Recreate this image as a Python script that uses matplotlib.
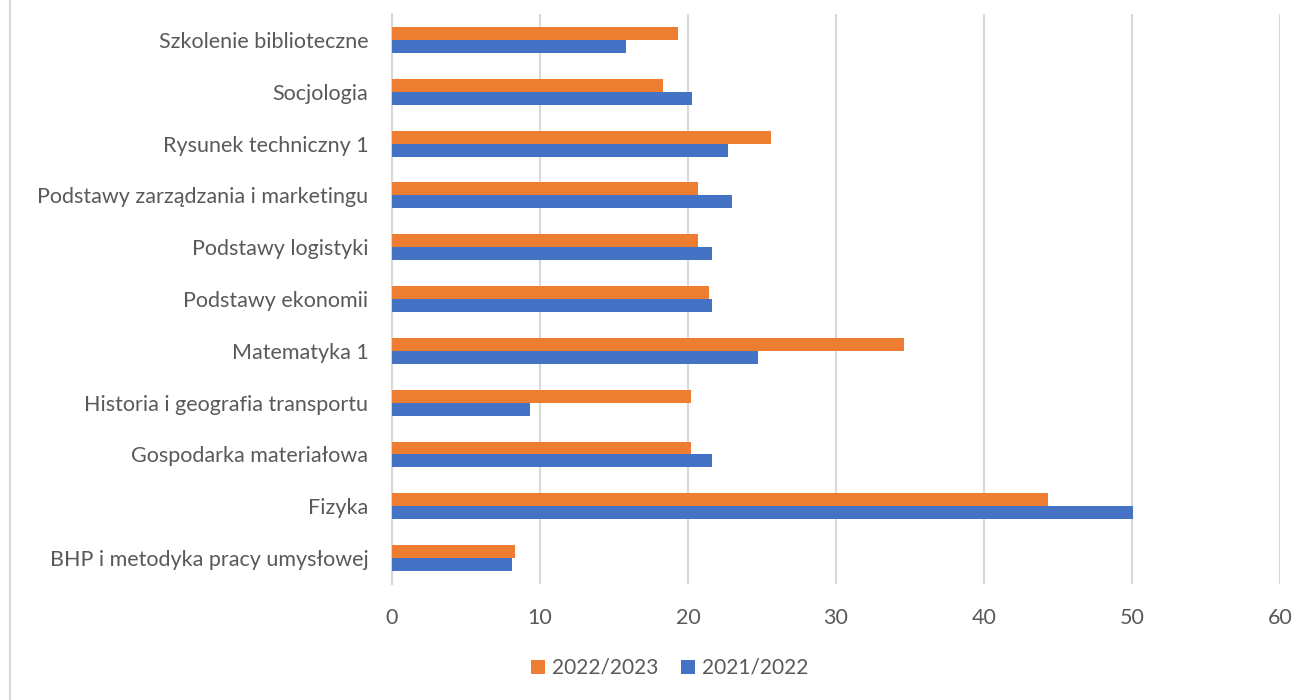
import matplotlib
matplotlib.use("Agg")
import matplotlib.pyplot as plt
import numpy as np
from matplotlib.lines import Line2D
from matplotlib.patches import Patch

categories = [
    "BHP i metodyka pracy umysłowej",
    "Fizyka",
    "Gospodarka materiałowa",
    "Historia i geografia transportu",
    "Matematyka 1",
    "Podstawy ekonomii",
    "Podstawy logistyki",
    "Podstawy zarządzania i marketingu",
    "Rysunek techniczny 1",
    "Socjologia",
    "Szkolenie biblioteczne",
]
values_2022_2023 = [8.3, 44.3, 20.2, 20.2, 34.6, 21.4, 20.7, 20.7, 25.6, 18.3, 19.3]
values_2021_2022 = [8.1, 50.1, 21.6, 9.3, 24.7, 21.6, 21.6, 23.0, 22.7, 20.3, 15.8]
series_names = ["2022/2023", "2021/2022"]
xticks = [0, 10, 20, 30, 40, 50, 60]

ORANGE = "#ED7D31"
BLUE = "#4472C4"
TEXT = "#595959"
GRID = "#D9D9D9"

plt.rcParams["font.family"] = ["Lato", "DejaVu Sans"]

fig = plt.figure(figsize=(13.11, 7.0), dpi=100)
ax = fig.add_axes([392 / 1311, 1 - 584 / 700, (1280 - 392) / 1311, (584 - 14) / 700])

y = np.arange(len(categories))
h = 0.25
ax.barh(y + h / 2, values_2022_2023, height=h, color=ORANGE, zorder=3)
ax.barh(y - h / 2, values_2021_2022, height=h, color=BLUE, zorder=3)

ax.set_xlim(0, 60)
ax.set_ylim(-0.5, len(categories) - 0.5)
ax.set_xticks(xticks)
ax.set_xticklabels([str(t) for t in xticks])
ax.set_yticks(y)
ax.set_yticklabels(categories)

ax.grid(axis="x", color=GRID, linewidth=1.5, zorder=0)
ax.set_axisbelow(True)
for s in ["top", "right", "bottom"]:
    ax.spines[s].set_visible(False)
ax.spines["left"].set_color(GRID)
ax.spines["left"].set_linewidth(1.5)

ax.tick_params(axis="both", length=0, labelsize=15.5, colors=TEXT)
ax.tick_params(axis="y", pad=17)
ax.tick_params(axis="x", pad=17)

handles = [Patch(facecolor=ORANGE), Patch(facecolor=BLUE)]
fig.legend(handles, series_names, loc="center", bbox_to_anchor=(670 / 1311, 1 - 668 / 700),
           ncol=2, frameon=False, fontsize=15, labelcolor=TEXT,
           handlelength=0.65, handleheight=0.65, handletextpad=0.35, columnspacing=1.1)

fig.add_artist(Line2D([10 / 1311, 10 / 1311], [0, 1], color=GRID, linewidth=1.5, transform=fig.transFigure))

fig.savefig("out.png", dpi=100, facecolor="white")
